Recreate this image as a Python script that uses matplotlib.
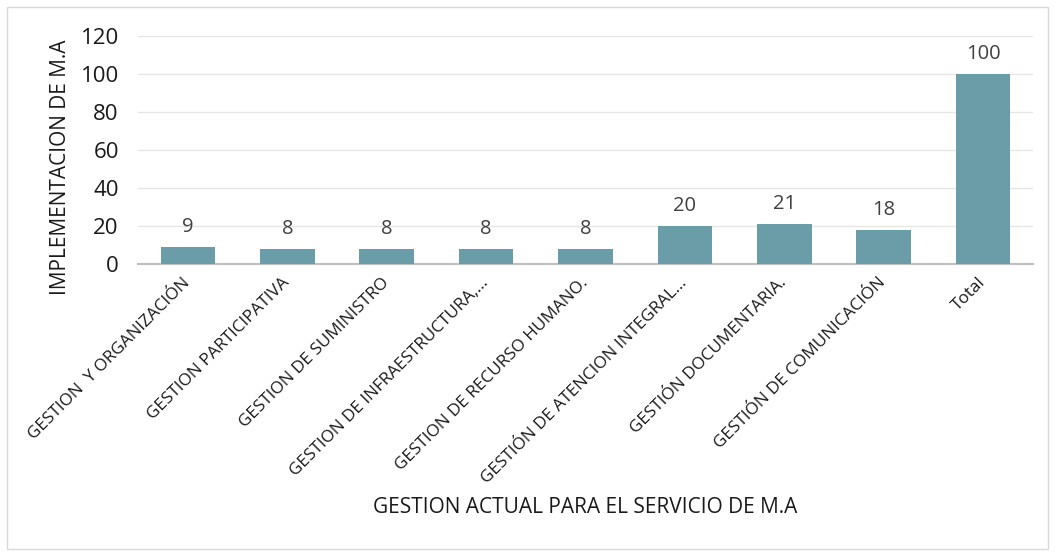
import matplotlib
matplotlib.use("Agg")
import matplotlib.pyplot as plt
from matplotlib.patches import Rectangle

categorias = [
    "GESTION  Y ORGANIZACIÓN",
    "GESTION PARTICIPATIVA",
    "GESTION DE SUMINISTRO",
    "GESTION DE INFRAESTRUCTURA,...",
    "GESTION DE RECURSO HUMANO.",
    "GESTIÓN DE ATENCION INTEGRAL...",
    "GESTIÓN DOCUMENTARIA.",
    "GESTIÓN DE COMUNICACIÓN",
    "Total",
]
valores = [9, 8, 8, 8, 8, 20, 21, 18, 100]
yticks = [0, 20, 40, 60, 80, 100, 120]

plt.rcParams["font.family"] = ["Open Sans", "DejaVu Sans"]

fig = plt.figure(figsize=(10.55, 5.52), dpi=100)
ax = fig.add_axes([0.131, 0.522, 0.848, 0.413])

x = range(len(categorias))
barras = ax.bar(x, valores, width=0.55, color="#6A9DA8", zorder=3)

for b, v in zip(barras, valores):
    ax.annotate(str(v), (b.get_x() + b.get_width() / 2, v),
                xytext=(0, 7), textcoords="offset points",
                ha="center", va="bottom", fontsize=14.5, color="#404040")

ax.set_xlim(-0.5, len(categorias) - 0.5)
ax.set_ylim(0, 120)
ax.set_yticks(yticks)
ax.tick_params(axis="y", labelsize=16, length=0, pad=14, labelcolor="#1a1a1a")
ax.set_xticks(list(x))
ax.set_xticklabels(categorias, rotation=45, ha="right", va="center",
                   rotation_mode="anchor", fontsize=12.3, color="#1a1a1a")
ax.tick_params(axis="x", length=0, pad=12)
ax.grid(axis="y", color="#E6E6E6", linewidth=1, zorder=0)

for s in ["top", "right", "left"]:
    ax.spines[s].set_visible(False)
ax.spines["bottom"].set_color("#BFBFBF")
ax.spines["bottom"].set_linewidth(1.5)

fig.text(0.555, 0.08, "GESTION ACTUAL PARA EL SERVICIO DE M.A",
         ha="center", va="center", fontsize=15, color="#1a1a1a")
fig.text(0.057, 0.697, "IMPLEMENTACION DE M.A", rotation=90,
         ha="center", va="center", fontsize=15, color="#1a1a1a")

fig.patches.append(Rectangle((0.007, 0.005), 0.986, 0.982, transform=fig.transFigure,
                             fill=False, edgecolor="#D9D9D9", linewidth=1))

fig.savefig("out.png", dpi=100)
